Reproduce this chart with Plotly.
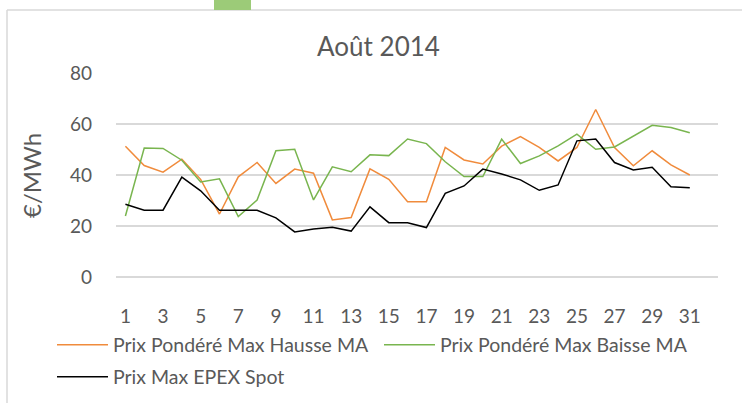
import plotly.graph_objects as go

days = list(range(1, 32))
hausse = [51.3, 43.7, 41.1, 46.2, 38.3, 24.7, 39.3, 44.9, 36.7, 42.3, 40.7,
          22.4, 23.3, 42.4, 38.3, 29.5, 29.5, 50.8, 45.9, 44.3, 51.3, 55.1,
          50.8, 45.5, 50.8, 65.7, 50.8, 43.6, 49.5, 44.0, 40.0]
baisse = [23.9, 50.6, 50.4, 45.8, 37.3, 38.5, 23.7, 30.2, 49.5, 50.1, 30.2,
          43.2, 41.3, 47.9, 47.6, 54.1, 52.3, 45.2, 39.4, 39.4, 54.1, 44.5,
          47.5, 51.4, 56.0, 50.1, 51.0, 55.2, 59.5, 58.6, 56.6]
epex = [28.5, 26.2, 26.2, 39.2, 33.8, 26.2, 26.2, 26.2, 23.2, 17.7, 18.8,
        19.5, 18.0, 27.5, 21.3, 21.3, 19.4, 32.8, 35.7, 42.3, 40.4, 38.1,
        34.0, 36.1, 53.4, 54.1, 44.9, 42.0, 43.0, 35.4, 35.0]
names = ["Prix Pondéré Max Hausse MA", "Prix Pondéré Max Baisse MA", "Prix Max EPEX Spot"]
colors = ["#F08B3C", "#79B54F", "#000000"]
x_ticks = list(range(1, 32, 2))
y_ticks = [0, 20, 40, 60, 80]

FONT = "Lato"
GRAY = "#595959"

W, H = 742, 403
L, R, T, B = 116, 24, 73, 126
PW, PH = W - L - R, H - T - B

def px(x):
    return (x - L) / PW

def py(y):
    return (H - B - y) / PH

legend_ids = ["legend", "legend2", "legend3"]
legend_pos = [(52, 345), (379, 345), (52, 377)]

fig = go.Figure()
for vals, name, col, lid in zip([hausse, baisse, epex], names, colors, legend_ids):
    fig.add_trace(go.Scatter(x=days, y=vals, mode="lines", name=name, legend=lid,
                             line=dict(color=col, width=1.5)))

legend_common = dict(orientation="h", xanchor="left", yanchor="middle",
                     font=dict(size=19.5, family=FONT, color=GRAY),
                     itemwidth=51, bgcolor="rgba(0,0,0,0)")
legends = {}
for lid, (lx, ly) in zip(legend_ids, legend_pos):
    legends[lid] = dict(x=px(lx), y=py(ly), **legend_common)

fig.update_layout(
    width=W, height=H,
    margin=dict(l=L, r=R, t=T, b=B, autoexpand=False),
    paper_bgcolor="white", plot_bgcolor="white",
    font=dict(family=FONT, color=GRAY),
    title=dict(text="Août 2014", font=dict(size=26, family=FONT, color=GRAY),
               x=378.5 / W, xref="container", xanchor="center",
               y=1 - 47 / H, yref="container", yanchor="middle"),
    showlegend=True,
    xaxis=dict(range=[0.5, 32.5], tickvals=x_ticks, ticktext=[str(t) for t in x_ticks],
               showgrid=False, zeroline=False, showline=False, ticks="",
               tickfont=dict(size=19, family=FONT, color=GRAY), ticklabelstandoff=26),
    yaxis=dict(range=[0, 80], tickvals=y_ticks, showgrid=True, gridcolor="#D9D9D9",
               gridwidth=1.5, zeroline=True, zerolinecolor="#D9D9D9", zerolinewidth=1.5,
               showline=False, ticks="",
               tickfont=dict(size=19, family=FONT, color=GRAY), ticklabelstandoff=23),
    annotations=[dict(text="€/MWh", textangle=-90, x=px(31), y=py(176),
                      xref="paper", yref="paper", showarrow=False,
                      xanchor="center", yanchor="middle",
                      font=dict(size=24, family=FONT, color=GRAY))],
    shapes=[
        dict(type="line", xref="paper", yref="paper", x0=px(7), x1=px(7), y0=py(10), y1=py(403),
             line=dict(color="#D9D9D9", width=1.5)),
        dict(type="line", xref="paper", yref="paper", x0=px(7), x1=px(742), y0=py(10), y1=py(10),
             line=dict(color="#D9D9D9", width=1.5)),
        dict(type="rect", xref="paper", yref="paper", x0=px(214), x1=px(251), y0=py(10), y1=py(0),
             line=dict(width=0), fillcolor="#9CCB78"),
    ],
    **legends,
)

fig.write_html("out.html", config={"displayModeBar": False},
               post_script="document.body.style.margin='0';document.body.style.padding='0';")
